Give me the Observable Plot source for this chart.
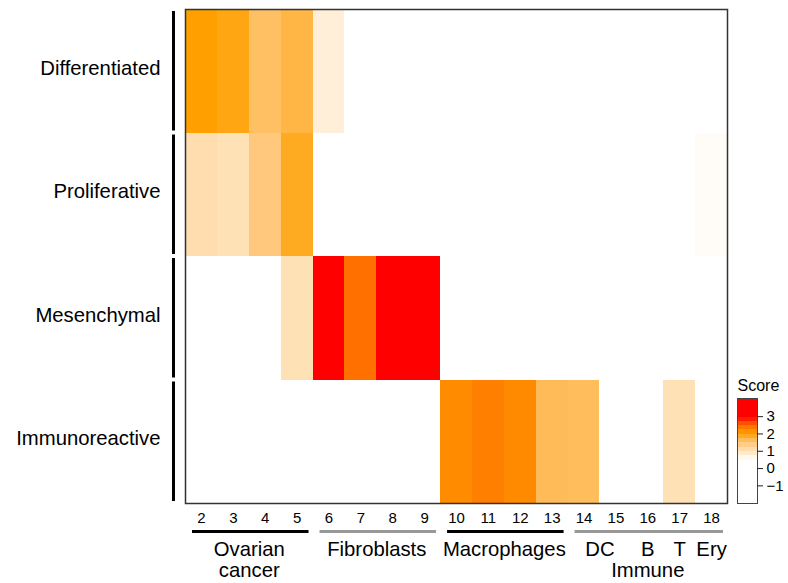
<!DOCTYPE html>
<html>
<head>
<meta charset="utf-8">
<script src="https://cdn.jsdelivr.net/npm/d3@7"></script>
<script src="https://cdn.jsdelivr.net/npm/@observablehq/plot@0.6"></script>
<style>
  html, body { margin: 0; padding: 0; background: white; }
  #wrap { position: relative; width: 788px; height: 583px; overflow: hidden; }
  #legend { position: absolute; left: 728px; top: 370px; }
</style>
</head>
<body>
<div id="wrap"><div id="main"></div><div id="legend"></div></div>
<script>
// ---- data ----
const rows = ["Differentiated", "Proliferative", "Mesenchymal", "Immunoreactive"];
const columns = [2, 3, 4, 5, 6, 7, 8, 9, 10, 11, 12, 13, 14, 15, 16, 17, 18];
const differentiated = [2.0, 1.92, 1.57, 1.7, 0.78, 0, 0, 0, 0, 0, 0, 0, 0, 0, 0, 0, 0];
const proliferative  = [1.08, 1.02, 1.43, 1.85, 0, 0, 0, 0, 0, 0, 0, 0, 0, 0, 0, 0, 0.55];
const mesenchymal    = [0, 0, 0, 1.02, 3.4, 2.4, 3.4, 3.4, 0, 0, 0, 0, 0, 0, 0, 0, 0];
const immunoreactive = [0, 0, 0, 0, 0, 0, 0, 0, 2.17, 2.27, 2.18, 1.62, 1.6, 0, 0, 1.02, 0];
const groupLabels = ["Ovarian\ncancer", "Fibroblasts", "Macrophages", "\nImmune"];
const groupStart  = [2, 6, 10, 14];
const groupEnd    = [5, 9, 13, 18];
const subLabels = ["DC", "B", "T", "Ery"];
const subStart  = [14, 16, 17, 18];
const subEnd    = [15, 16, 17, 18];
const legendTicks = [3, 2, 1, 0, -1];
const legendTitle = "Score";

// ---- build tables ----
const seriesByRow = [differentiated, proliferative, mesenchymal, immunoreactive];
const cells = [];
rows.forEach((r, i) => columns.forEach((c, j) => cells.push({row: r, ri: i, col: c, value: seriesByRow[i][j]})));
const groups = groupLabels.map((label, i) => ({label, start: groupStart[i], end: groupEnd[i], i}));
const subs = subLabels.map((label, i) => ({label, start: subStart[i], end: subEnd[i]}));

const colorOpts = {
  type: "linear",
  domain: [0.5, 1, 1.5, 2, 2.5, 3],
  range: ["#ffffff", "#ffe2b9", "#ffc473", "#ffa000", "#ff6400", "#ff0000"],
  interpolate: "rgb",
  clamp: true
};
const font = "'Liberation Sans', Arial, Helvetica, sans-serif";
const xDomain = [columns[0] - 0.5, columns[columns.length - 1] + 0.5];
const fmt = d3.format("d");

const main = Plot.plot({
  width: 788,
  height: 583,
  marginTop: 9,
  marginLeft: 185,
  marginRight: 61,
  marginBottom: 80,
  style: {fontFamily: font, fontSize: "15px", color: "black", background: "white", overflow: "visible"},
  x: {type: "linear", domain: xDomain, axis: null},
  y: {type: "linear", domain: [0, rows.length], reverse: true, axis: null},
  color: colorOpts,
  marks: [
    Plot.rect(cells, {x1: d => d.col - 0.5, x2: d => d.col + 0.5, y1: d => d.ri, y2: d => d.ri + 1, fill: "value", shapeRendering: "crispEdges"}),
    Plot.frame({stroke: "#333", strokeWidth: 1.5}),
    // x tick labels
    Plot.text(columns, {x: d => d, y: () => rows.length, text: d => fmt(d), lineAnchor: "top", dy: 9, fontSize: 15, fill: "black"}),
    // row labels
    Plot.text(rows, {x: () => xDomain[0], y: (d, i) => i + 0.5, text: d => d, textAnchor: "end", dx: -25, dy: -3, fontSize: 20.3, fill: "black"}),
    Plot.ruleX(rows, {x: () => xDomain[0], y1: (d, i) => i, y2: (d, i) => i + 1, dx: -12, insetTop: 2, insetBottom: 2, stroke: "black", strokeWidth: 3}),
    // group bars
    Plot.ruleY(groups.filter(g => g.i % 2 === 0), {x1: d => d.start - 0.5, x2: d => d.end + 0.5, y: () => rows.length, dy: 28, insetLeft: 7, insetRight: 4, stroke: "black", strokeWidth: 3}),
    Plot.ruleY(groups.filter(g => g.i % 2 === 1), {x1: d => d.start - 0.5, x2: d => d.end + 0.5, y: () => rows.length, dy: 28, insetLeft: 7, insetRight: 4, stroke: "#999", strokeWidth: 3}),
    Plot.text(groups, {x: d => (d.start + d.end) / 2, y: () => rows.length, text: "label", lineAnchor: "top", lineHeight: 1.05, dy: 37, fontSize: 20.3, fill: "black"}),
    Plot.text(subs, {x: d => (d.start + d.end) / 2, y: () => rows.length, text: "label", lineAnchor: "top", lineHeight: 1.05, dy: 37, fontSize: 20.3, fill: "black"})
  ]
});
document.getElementById("main").appendChild(main);

// ---- legend ----
const lDomain = [-2.02, 4.05];
const step = 0.25;
const bands = d3.range(lDomain[0], lDomain[1], step).map(v => ({y1: v, y2: Math.min(v + step, lDomain[1]), v: v + step / 2}));
const legend = Plot.plot({
  width: 60,
  height: 140,
  marginTop: 28,
  marginBottom: 7,
  marginLeft: 9,
  marginRight: 31,
  style: {fontFamily: font, fontSize: "15px", color: "black", background: "transparent", overflow: "visible"},
  x: {axis: null},
  y: {type: "linear", domain: lDomain, axis: null},
  color: colorOpts,
  marks: [
    Plot.rect(bands, {y1: "y1", y2: "y2", fill: "v", shapeRendering: "crispEdges"}),
    Plot.frame({stroke: "#444", strokeWidth: 1}),
    Plot.ruleY(legendTicks, {y: d => d, insetLeft: 20, insetRight: -6, stroke: "#222", strokeWidth: 1}),
    Plot.text(legendTicks, {y: d => d, frameAnchor: "right", text: d => fmt(d), textAnchor: "start", dx: 9, fontSize: 15, fill: "black"}),
    Plot.text([legendTitle], {frameAnchor: "top-left", text: d => d, textAnchor: "start", lineAnchor: "bottom", dy: -8, fontSize: 16, fill: "black"})
  ]
});
document.getElementById("legend").appendChild(legend);
</script>
</body>
</html>
